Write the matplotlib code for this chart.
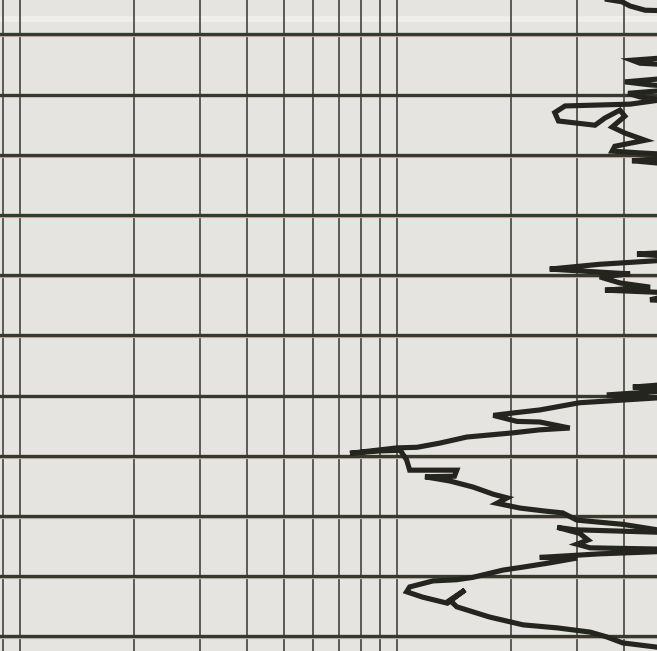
import matplotlib
matplotlib.use("Agg")
import matplotlib.pyplot as plt

# ===== データ（抵抗率ログの読み取り値）=====
depth_ft = [2093.0, 2094.0, 2094.6, 2095.3, 2096.0, 2096.1, 2099.3, 2103.0, 2104.3, 2104.8,
            2105.3, 2106.6, 2107.9, 2108.4, 2108.9, 2109.8, 2110.4, 2110.9, 2111.6, 2111.9,
            2113.0, 2114.4, 2115.1, 2113.9, 2112.6, 2113.6, 2115.4, 2116.4, 2117.6, 2118.6,
            2119.4, 2119.7, 2120.2, 2121.0, 2121.7, 2125.0, 2130.8, 2135.5, 2136.5, 2137.2,
            2138.2, 2139.0, 2139.3, 2139.8, 2140.3, 2141.3, 2142.0, 2142.5, 2143.0, 2144.1,
            2144.8, 2150.8, 2157.1, 2158.6, 2159.1, 2159.9, 2160.4, 2161.2, 2162.4, 2162.9,
            2163.3, 2164.3, 2164.4, 2165.4, 2165.7, 2166.2, 2166.9, 2167.9, 2168.6, 2168.7,
            2169.6, 2169.2, 2169.1, 2170.7, 2172.4, 2172.4, 2173.4, 2173.5, 2174.2, 2175.2,
            2176.4, 2177.0, 2177.9, 2178.7, 2179.2, 2179.5, 2180.7, 2181.4, 2182.3, 2182.9,
            2182.3, 2181.9, 2182.9, 2184.0, 2184.7, 2185.3, 2185.5, 2185.7, 2186.3, 2186.9,
            2187.0, 2187.8, 2188.5, 2189.0, 2190.2, 2190.6, 2190.8, 2191.8, 2192.6, 2193.5,
            2194.5, 2192.3, 2194.0, 2195.1, 2196.8, 2198.1, 2198.6, 2199.3, 2200.1, 2201.1,
            2201.8, 2203.1]
res_ohmm = [850, 345, 395, 415, 455, 530, 900, 800, 420, 441,
            620, 700, 402, 469, 620, 410, 441, 500, 415, 279,
            262, 268, 335, 356, 390, 402, 372, 402, 455, 378,
            372, 441, 620, 420, 560, 1000, 1100, 850, 433, 620,
            345, 254, 305, 415, 345, 390, 469, 356, 560, 469,
            700, 1100, 850, 422, 560, 360, 489, 305, 239, 203,
            180, 208, 239, 287, 239, 203, 153, 130, 113, 100,
            75, 90, 102, 106, 108, 144, 142, 118.6, 138, 159,
            180, 196, 184, 212, 247, 275, 300, 397, 489, 620,
            296, 266, 305, 321, 300, 325, 489, 620, 345, 239,
            300, 254, 216, 191, 159, 144, 124.5, 108, 106, 117,
            136, 151.4, 138, 144, 176, 216, 266, 325, 360, 397,
            489, 620]

grid_res = [9, 10, 20, 30, 40, 50, 60, 70, 80, 90, 100, 200, 300, 400]
grid_depth = [2100, 2110, 2120, 2130, 2140, 2150, 2160, 2170, 2180, 2190, 2200]

# ===== グラフ =====
paper = "#e6e4e0"
fig = plt.figure(figsize=(6.57, 6.51), dpi=100)
fig.patch.set_facecolor(paper)
ax = fig.add_axes([0, 0, 1, 1])
ax.set_facecolor(paper)
ax.set_xscale("log")
ax.set_xlim(8.846, 489.2)
ax.set_ylim(2202.44, 2094.30)

# スキャンの折れ目っぽい明るい帯
ax.axhspan(2097.0, 2097.9, color="#f0eeea", lw=0, zorder=0)

for r in grid_res:
    ax.axvline(r, color="#35352f", lw=1.1, zorder=1)
for d in grid_depth:
    ax.axhline(d + 0.3, color="#d9b9b2", lw=0.9, zorder=1)
    ax.axhline(d, color="#343a2e", lw=2.4, zorder=2)

ax.plot(res_ohmm, depth_ft, color="#25251f", lw=3.7,
        solid_joinstyle="miter", solid_capstyle="butt", zorder=3)

ax.set_axis_off()
fig.savefig("out.png", dpi=100, facecolor=paper)
